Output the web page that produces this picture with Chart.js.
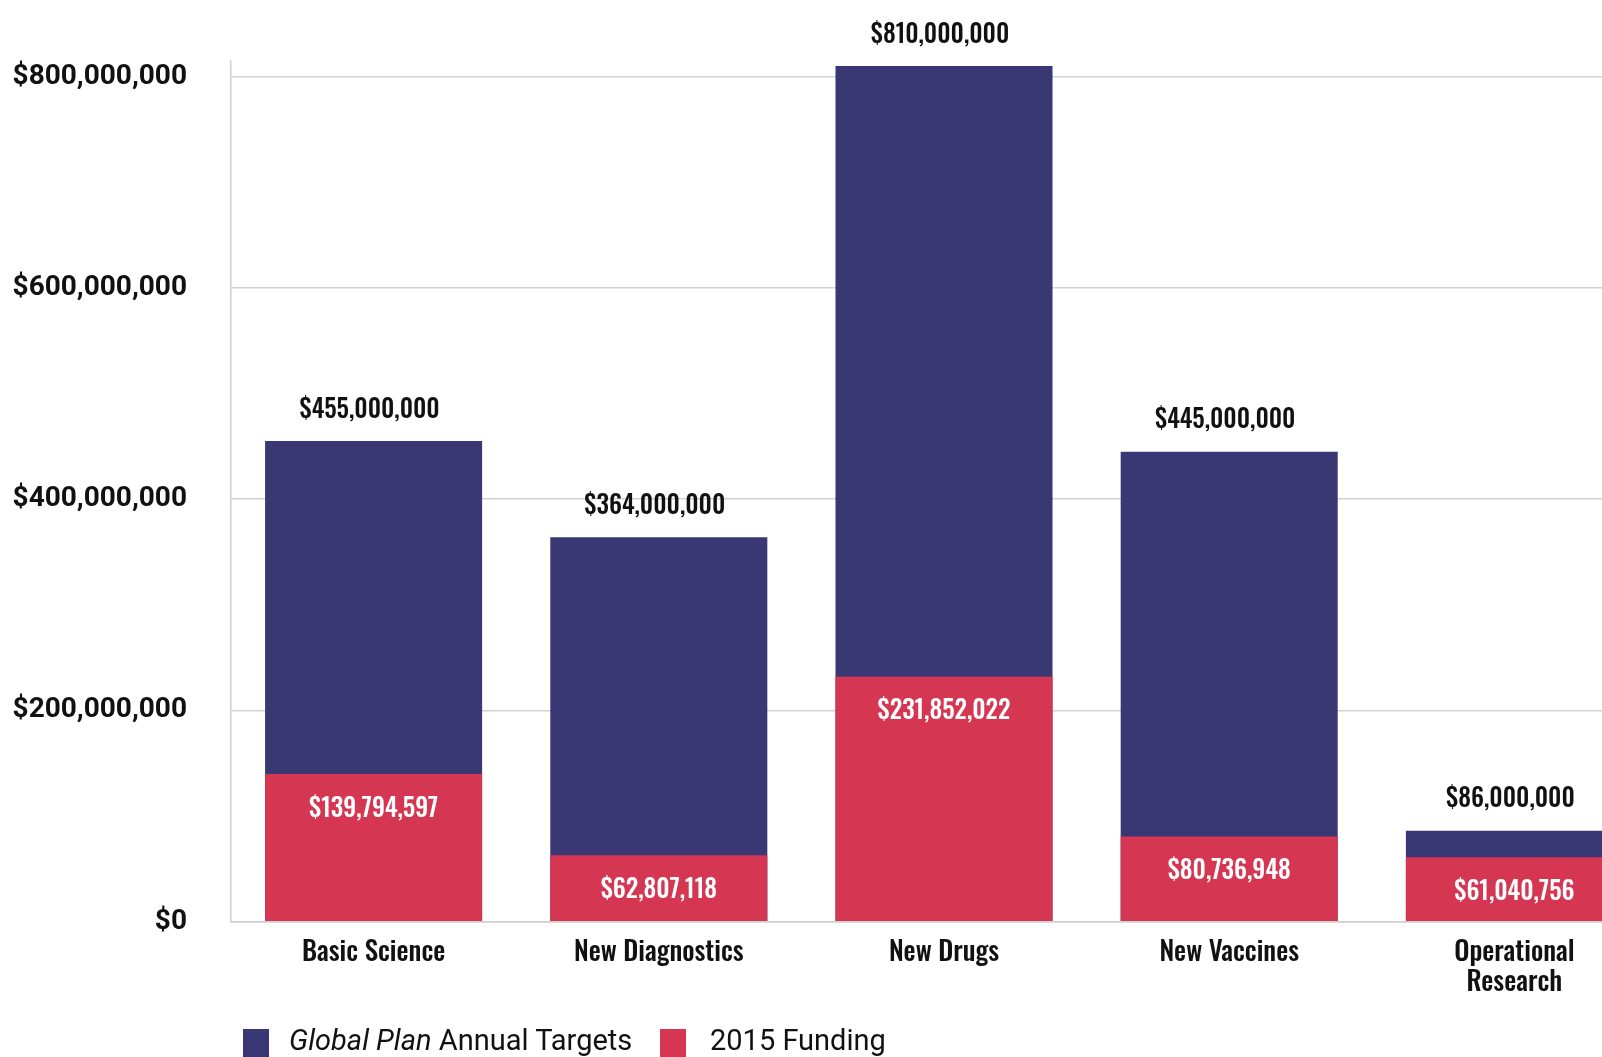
<!DOCTYPE html>
<html lang="en">
<head>
    <meta charset="UTF-8">
    <title>Global Plan Annual Targets vs 2015 Funding</title>
    <script src="https://cdn.jsdelivr.net/npm/chart.js"></script>
    <style>
        html, body { margin: 0; padding: 0; background: #fff; overflow: hidden; }
        #wrap { position: relative; width: 1660px; height: 1057px; }
        .sw { position: absolute; top: 1029px; width: 26px; height: 32px; }
        .lt { position: absolute; top: 1026px; font-family: 'Roboto', sans-serif;
              font-size: 29px; line-height: 29px; color: #111; white-space: nowrap; }
    </style>
</head>
<body>
<div id="wrap">
    <canvas id="rdChart" width="1660" height="1057"></canvas>
    <div class="sw" style="left:243px; background:#393875;"></div>
    <div class="lt" style="left:289px;"><i>Global Plan</i> Annual Targets</div>
    <div class="sw" style="left:660px; background:#d53652;"></div>
    <div class="lt" style="left:710px;">2015 Funding</div>
</div>

<script>
    const categories = ['Basic Science', 'New Diagnostics', 'New Drugs', 'New Vaccines', ['Operational', 'Research']];
    const targets = [455000000, 364000000, 810000000, 445000000, 86000000];
    const funding = [139794597, 62807118, 231852022, 80736948, 61040756];
    const yTicks = [0, 200000000, 400000000, 600000000, 800000000];

    const BLUE = '#393875';
    const RED = '#d53652';
    const NARROW = "'Oswald', 'Roboto Condensed', sans-serif";

    const money = v => '$' + Number(v).toLocaleString('en-US');

    // value labels: target above the blue bar, funding inside the red one
    const valueLabels = {
        id: 'valueLabels',
        afterDatasetsDraw(chart) {
            const ctx = chart.ctx;
            const fundMeta = chart.getDatasetMeta(0);
            const targMeta = chart.getDatasetMeta(1);
            ctx.save();
            ctx.textAlign = 'center';
            ctx.textBaseline = 'middle';
            ctx.font = '500 25px ' + NARROW;
            targMeta.data.forEach((bar, i) => {
                ctx.fillStyle = '#111';
                ctx.fillText(money(targets[i]), bar.x - 4, bar.y - 31);
            });
            fundMeta.data.forEach((bar, i) => {
                ctx.fillStyle = '#fff';
                ctx.fillText(money(funding[i]), bar.x, bar.y + 35);
            });
            ctx.restore();
        }
    };

    new Chart(document.getElementById('rdChart').getContext('2d'), {
        type: 'bar',
        data: {
            labels: categories,
            datasets: [
                {
                    label: '2015 Funding',
                    data: funding,
                    backgroundColor: RED,
                    grouped: false,
                    order: 0
                },
                {
                    label: 'Global Plan Annual Targets',
                    data: targets,
                    backgroundColor: BLUE,
                    grouped: false,
                    order: 1
                }
            ]
        },
        options: {
            responsive: false,
            animation: false,
            barPercentage: 0.761,
            categoryPercentage: 1,
            layout: { padding: { top: 55, right: 3, bottom: 0, left: 0 } },
            plugins: {
                legend: { display: false },
                tooltip: { enabled: false }
            },
            scales: {
                x: {
                    grid: { display: false },
                    border: { display: true, color: '#cfcfcf', width: 1.5 },
                    ticks: {
                        color: '#111',
                        padding: 8,
                        maxRotation: 0,
                        autoSkip: false,
                        font: { family: NARROW, size: 27, weight: '500', lineHeight: 1.12 }
                    },
                    afterFit(scale) { scale.height = 135.3; }
                },
                y: {
                    min: 0,
                    max: 815000000,
                    grid: { color: '#d2d2d2', lineWidth: 1.5, drawTicks: false },
                    border: { display: true, color: '#cfcfcf', width: 1.5 },
                    afterBuildTicks(scale) {
                        scale.ticks = yTicks.map(v => ({ value: v }));
                    },
                    ticks: {
                        color: '#111',
                        padding: 44,
                        font: { family: 'Roboto', size: 28, weight: 'bold' },
                        callback: v => money(v)
                    },
                    afterFit(scale) { scale.width = 231; }
                }
            }
        },
        plugins: [valueLabels]
    });
</script>
</body>
</html>
